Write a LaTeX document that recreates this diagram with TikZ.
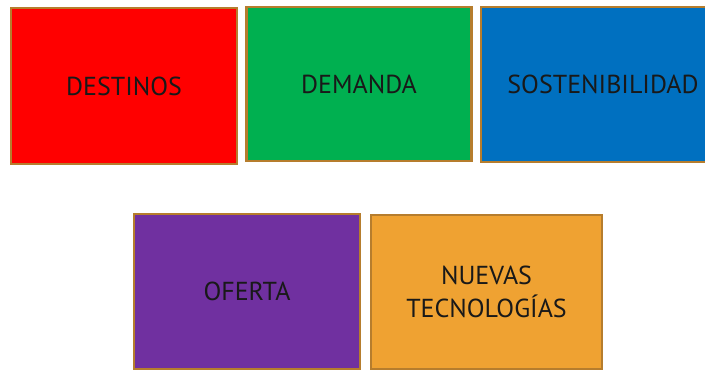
\documentclass[tikz,border=0pt]{standalone}
\usepackage{fontspec}
\setmainfont{PT Sans}
\definecolor{bordbrown}{RGB}{182,125,45}
\definecolor{cred}{RGB}{255,0,0}
\definecolor{cgreen}{RGB}{0,176,80}
\definecolor{cblue}{RGB}{0,112,192}
\definecolor{cpurple}{RGB}{112,48,160}
\definecolor{corange}{RGB}{239,162,50}
\begin{document}
\begin{tikzpicture}[x=1pt,y=-1pt,
  card/.style={draw=bordbrown,line width=2.2pt,rectangle,inner sep=0pt,
    font=\fontsize{26}{33}\selectfont,text=black!90,align=center}]
\useasboundingbox (0,0) rectangle (705,370);
\node[card,fill=cred,minimum width=226pt,minimum height=156pt] (destinos) at (124,86) {DESTINOS};
\node[card,fill=cgreen,minimum width=225pt,minimum height=154pt] (demanda) at (359,84) {DEMANDA};
\node[card,fill=cblue,minimum width=244pt,minimum height=155pt] (sosten) at (603,84.5) {SOSTENIBILIDAD};
\node[card,fill=cpurple,minimum width=226pt,minimum height=155pt] (oferta) at (247,291.5) {OFERTA};
\node[card,fill=corange,minimum width=231pt,minimum height=154pt] (nuevas) at (486.5,292) {NUEVAS\\TECNOLOGÍAS};
\end{tikzpicture}
\end{document}
